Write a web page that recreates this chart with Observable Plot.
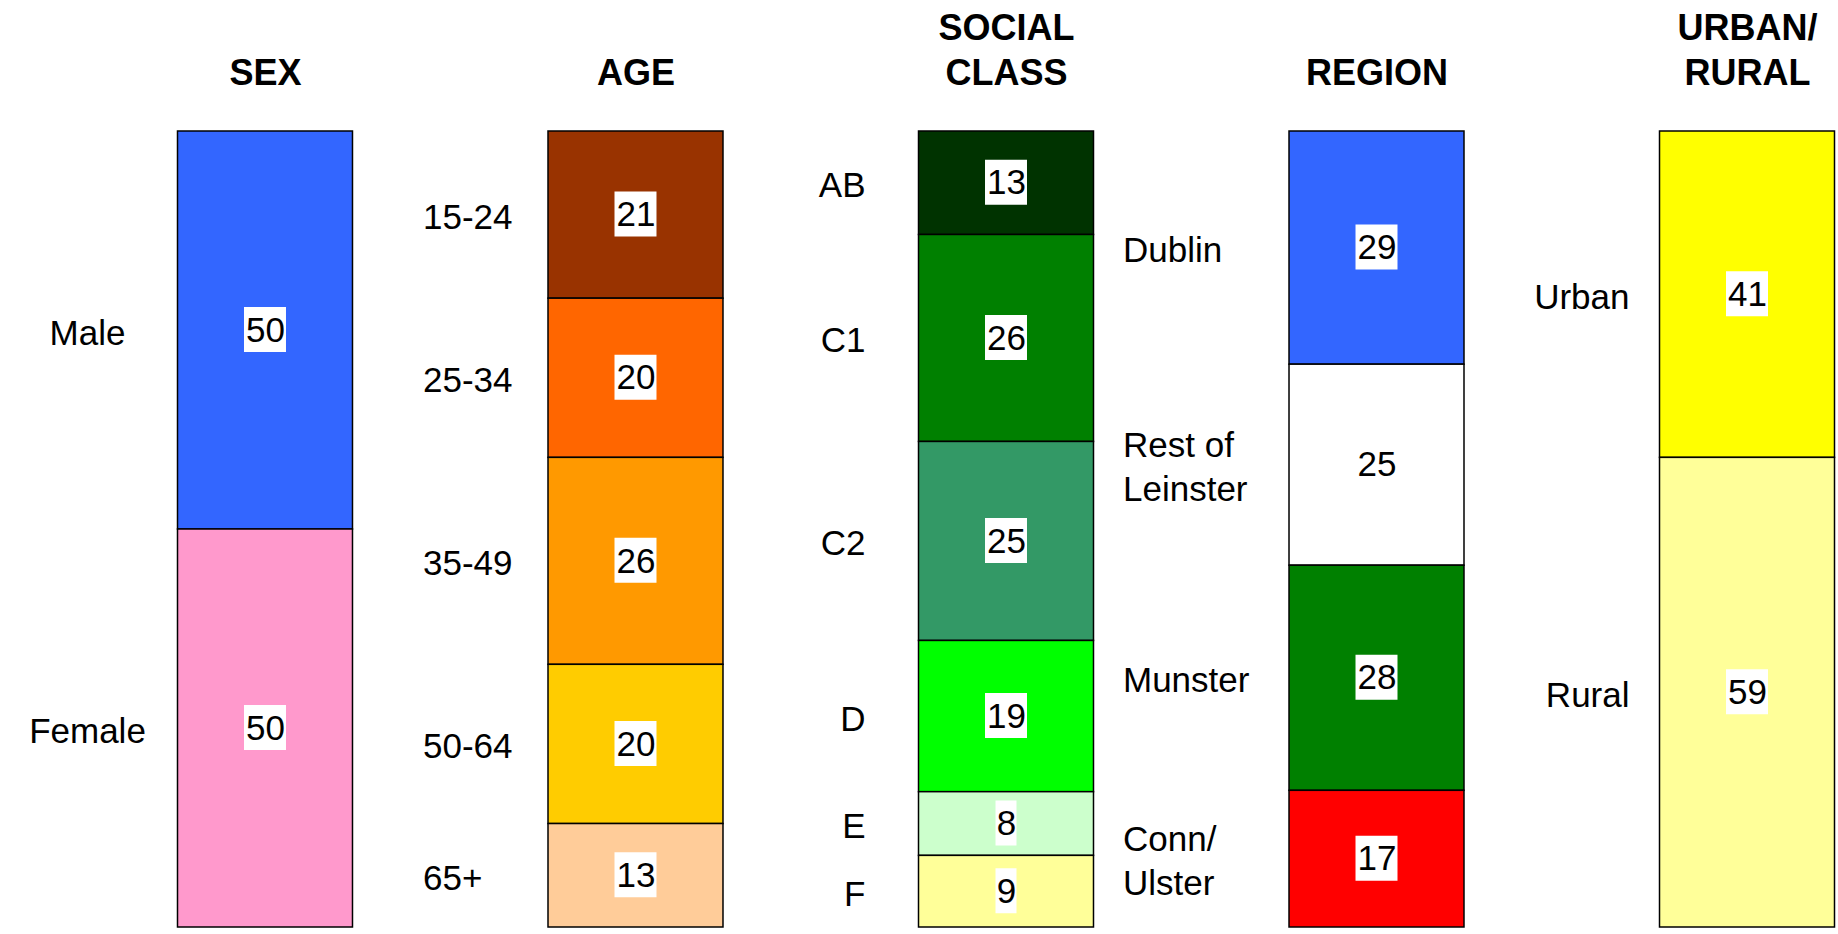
<!DOCTYPE html>
<html><head><meta charset="utf-8">
<script src="https://cdn.jsdelivr.net/npm/d3@7"></script>
<script src="https://cdn.jsdelivr.net/npm/@observablehq/plot@0.6"></script>
<style>body{margin:0;background:#fff;} #chart svg{display:block;overflow:visible}</style>
</head><body><div id="chart"></div>
<script>
// ---- data ----
const groups = ["SEX", "AGE", "SOCIAL\nCLASS", "REGION", "URBAN/\nRURAL"];
const sexLabels = ["Male", "Female"];
const sexValues = [50, 50];
const ageLabels = ["15-24", "25-34", "35-49", "50-64", "65+"];
const ageValues = [21, 20, 26, 20, 13];
const classLabels = ["AB", "C1", "C2", "D", "E", "F"];
const classValues = [13, 26, 25, 19, 8, 9];
const regionLabels = ["Dublin", "Rest of\nLeinster", "Munster", "Conn/\nUlster"];
const regionValues = [29, 25, 28, 17];
const areaLabels = ["Urban", "Rural"];
const areaValues = [41, 59];

// ---- styles ----
const sexColors = ["#3366FF", "#FF99CC"];
const ageColors = ["#993300", "#FF6600", "#FF9900", "#FFCC00", "#FFCC99"];
const classColors = ["#003300", "#008000", "#339966", "#00FF00", "#CCFFCC", "#FFFF99"];
const regionColors = ["#3366FF", "#FFFFFF", "#008000", "#FF0000"];
const areaColors = ["#FFFF00", "#FFFF99"];

// label placement relative to each column's bar (anchor, horizontal offset from bar centre)
const labelLayout = [
  {anchor: "middle", dx: -178},
  {anchor: "start", dx: -213},
  {anchor: "end", dx: -141},
  {anchor: "start", dx: -254},
  {anchor: "end", dx: -118}
];

const series = [
  [sexLabels, sexValues, sexColors],
  [ageLabels, ageValues, ageColors],
  [classLabels, classValues, classColors],
  [regionLabels, regionValues, regionColors],
  [areaLabels, areaValues, areaColors]
];
const rows = series.flatMap(([labels, values, colors], gi) =>
  labels.map((label, i) => ({group: groups[gi], label, value: values[i], color: colors[i]})));

const FONT = "'Liberation Sans', Arial, sans-serif";
const stackOpts = {x: "group", y: "value", offset: "normalize"};
const digits = d => String(d.value).length;

const labelMarks = groups.map((g, gi) =>
  Plot.text(rows.filter(d => d.group === g), Plot.stackY({
    ...stackOpts, text: "label", fontSize: 35, fill: "black",
    textAnchor: labelLayout[gi].anchor, dx: labelLayout[gi].dx, lineHeight: 1.25
  })));

const chart = Plot.plot({
  width: 1838,
  height: 934,
  marginTop: 131,
  marginBottom: 7,
  marginLeft: 177.5,
  marginRight: 3.5,
  style: {fontFamily: FONT, background: "white"},
  x: {domain: groups, paddingInner: 0.5277, paddingOuter: 0, align: 0.5, round: false, axis: null},
  y: {domain: [0, 1], reverse: true, axis: null},
  color: {type: "identity"},
  marks: [
    Plot.barY(rows, Plot.stackY({...stackOpts, fill: "color", stroke: "black", strokeWidth: 1.5})),
    // white label boxes: two-digit and one-digit widths
    Plot.tickY(rows, Plot.stackY({
      ...stackOpts, stroke: d => digits(d) === 2 ? "white" : "transparent",
      strokeWidth: 45, insetLeft: 66.5, insetRight: 66.5, dy: -1
    })),
    Plot.tickY(rows, Plot.stackY({
      ...stackOpts, stroke: d => digits(d) === 1 ? "white" : "transparent",
      strokeWidth: 45, insetLeft: 77, insetRight: 77, dy: -1
    })),
    Plot.text(rows, Plot.stackY({...stackOpts, text: d => String(d.value), fontSize: 35, fill: "black"})),
    ...labelMarks,
    Plot.axisX({anchor: "top", tickSize: 0, tickPadding: 47, fontSize: 36, fontWeight: "bold",
      lineHeight: 1.25, label: null, fill: "black"})
  ]
});
document.getElementById("chart").appendChild(chart);
</script>
</body></html>
